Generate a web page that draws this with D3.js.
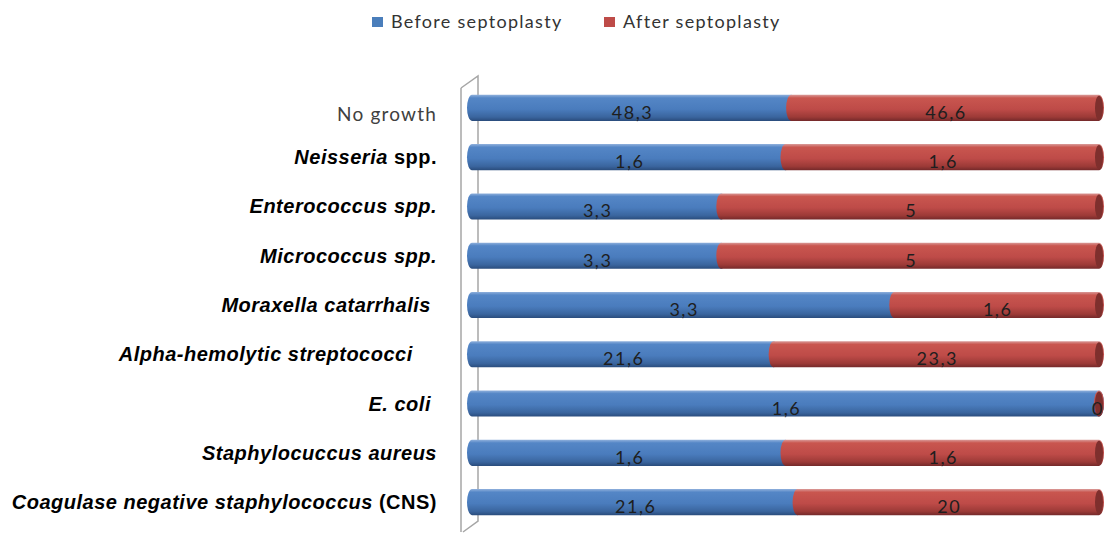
<!DOCTYPE html>
<html>
<head>
<meta charset="utf-8">
<script src="https://cdn.jsdelivr.net/npm/d3@7"></script>
<style>
  body { margin: 0; background: #fff; }
  svg { display: block; }
</style>
</head>
<body>
<svg id="chart" width="1105" height="534"></svg>
<script>
// categories, top to bottom; parts: [text, italic]
var categories = [
  [["No growth", false]],
  [["Neisseria", true], [" spp.", false]],
  [["Enterococcus spp.", true]],
  [["Micrococcus spp.", true]],
  [["Moraxella catarrhalis ", true]],
  [["Alpha-hemolytic streptococci    ", true]],
  [["E. coli ", true]],
  [["Staphylocuccus aureus", true]],
  [["Coagulase negative staphylococcus", true], [" (CNS)", false]]
];
var before = [48.3, 1.6, 3.3, 3.3, 3.3, 21.6, 1.6, 1.6, 21.6];
var after  = [46.6, 1.6, 5, 5, 1.6, 23.3, 0, 1.6, 20];
var seriesNames = ["Before septoplasty", "After septoplasty"];

var svg = d3.select("#chart");
var defs = svg.append("defs");

function grad(id, stops) {
  var g = defs.append("linearGradient").attr("id", id)
    .attr("x1", 0).attr("y1", 0).attr("x2", 0).attr("y2", 1);
  stops.forEach(s => g.append("stop").attr("offset", s[0]).attr("stop-color", s[1]));
}
grad("gBlue", [[0, "#8fb0dc"], [0.12, "#5486c6"], [0.55, "#4a7cbd"], [0.85, "#3a659e"], [1, "#2a4c7c"]]);
grad("gRed",  [[0, "#d99a98"], [0.12, "#c9564f"], [0.55, "#be4b48"], [0.85, "#9c3a37"], [1, "#74292a"]]);
var colors = ["#4a7ebb", "#be4b48"];
var fills = ["url(#gBlue)", "url(#gRed)"];
var capFill = ["#3b669c", "#7e2f2d"];

var x = d3.scaleLinear().domain([0, 1]).range([472, 1099]);
var y = d3.scaleBand().domain(d3.range(categories.length)).range([82, 528]).paddingInner(0.47).paddingOuter(0.26);
var h = y.bandwidth();
var rx = 5;
var sans = "Lato, 'Open Sans', sans-serif";

// back wall
var wall = svg.append("g").attr("fill", "none").attr("stroke", "#a6a6a6").attr("stroke-width", 1.5);
wall.append("path").attr("d", "M461,88 L478,76 L478,521 L463,532");
wall.append("path").attr("d", "M461,88 L461,532");

// legend
var leg = svg.append("g").attr("font-family", sans).attr("font-size", 18).attr("fill", "#333");
[[372, 391], [604, 623]].forEach(function (p, i) {
  leg.append("rect").attr("x", p[0]).attr("y", 17).attr("width", 11).attr("height", 10).attr("fill", colors[i]);
  leg.append("text").attr("x", p[1]).attr("y", 28).attr("letter-spacing", 1.3).text(seriesNames[i]);
});

// bars
categories.forEach(function (c, i) {
  var tot = before[i] + after[i];
  var segs = [[0, before[i] / tot], [before[i] / tot, 1]];
  var top = y(i), bot = y(i) + h, cy = y(i) + h / 2;
  segs.forEach(function (s, k) {
    var x0 = x(s[0]), x1 = x(s[1]);
    svg.append("path")
      .attr("d", "M" + x0 + "," + top + " L" + x1 + "," + top +
        " A" + rx + "," + (h / 2) + " 0 0 1 " + x1 + "," + bot +
        " L" + x0 + "," + bot +
        " A" + rx + "," + (h / 2) + " 0 0 1 " + x0 + "," + top + " Z")
      .attr("fill", fills[k]);
  });
  // end cap face
  svg.append("ellipse").attr("cx", x(1)).attr("cy", cy).attr("rx", rx - 1).attr("ry", h / 2 - 1)
    .attr("fill", capFill[1]);
  // values
  [before[i], after[i]].forEach(function (v, k) {
    var mid = v === 0 ? x(1) - 2 : x((segs[k][0] + segs[k][1]) / 2);
    svg.append("text").attr("x", mid + 1).attr("y", cy + 11)
      .attr("text-anchor", "middle")
      .attr("font-family", sans).attr("font-size", 18)
      .attr("letter-spacing", 1.5)
      .attr("fill", "#1e1e1e")
      .text(String(v).replace(".", ","));
  });
});

// category labels
categories.forEach(function (c, i) {
  var cy = y(i) + h / 2;
  var t = svg.append("text").attr("x", 437).attr("y", cy + 7)
    .attr("text-anchor", "end").attr("xml:space", "preserve");
  if (i === 0) {
    t.attr("y", cy + 13).attr("font-family", sans).attr("font-size", 19).attr("fill", "#404040")
      .attr("letter-spacing", 1.2).text(c[0][0]);
    return;
  }
  t.attr("font-family", "'Liberation Sans', Arial, sans-serif").attr("font-size", 20)
    .attr("letter-spacing", 0.5)
    .attr("font-weight", "bold").attr("fill", "#000");
  c.forEach(function (p) {
    t.append("tspan").attr("font-style", p[1] ? "italic" : "normal").text(p[0]);
  });
});
</script>
</body>
</html>
